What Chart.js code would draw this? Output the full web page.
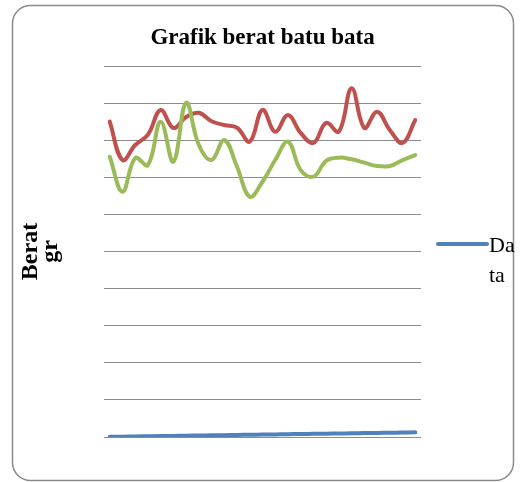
<!DOCTYPE html>
<html>
<head>
<meta charset="utf-8">
<title>Grafik berat batu bata</title>
<script src="https://cdn.jsdelivr.net/npm/chart.js@4.4.1/dist/chart.umd.min.js"></script>
<style>
  html, body { margin: 0; padding: 0; background: #fff; }
  #wrap { width: 520px; height: 482px; }
</style>
</head>
<body>
<div id="wrap"><canvas id="beratChart" width="520" height="482"></canvas></div>
<script>
// nomor sampel (kategori) dan seri data
const sampel = [1, 2, 3, 4, 5, 6, 7, 8, 9, 10, 11, 12, 13, 14, 15, 16, 17, 18, 19, 20, 21, 22, 23, 24, 25];
const dataNo = [1, 2, 3, 4, 5, 6, 7, 8, 9, 10, 11, 12, 13, 14, 15, 16, 17, 18, 19, 20, 21, 22, 23, 24, 25];
const beratMerah = [1700, 1493, 1574, 1630, 1763, 1666, 1725, 1748, 1702, 1682, 1667, 1592, 1763, 1646, 1736,
                    1639, 1585, 1693, 1646, 1880, 1666, 1754, 1655, 1585, 1709];
const beratHijau = [1511, 1322, 1504, 1466, 1700, 1484, 1802, 1574, 1493, 1601, 1457, 1295, 1376, 1493, 1592,
                    1439, 1403, 1489, 1506, 1497, 1479, 1461, 1461, 1493, 1520];
const yTicks = { min: 0, max: 2000, step: 200 };

const serif = "'Liberation Serif', 'Times New Roman', serif";

// bingkai bulat di sekeliling grafik
const frame = {
    id: 'frame',
    beforeDraw(chart) {
        const ctx = chart.ctx;
        ctx.save();
        ctx.fillStyle = '#fff';
        ctx.fillRect(0, 0, chart.width, chart.height);
        ctx.beginPath();
        ctx.roundRect(12.5, 5.5, 501, 475, 18);
        ctx.strokeStyle = '#8a8a8a';
        ctx.lineWidth = 1.5;
        ctx.stroke();
        ctx.restore();
    }
};

// legenda hanya untuk seri pertama, teks dipotong per huruf seperti aslinya
const sideLegend = {
    id: 'sideLegend',
    afterDraw(chart) {
        const ctx = chart.ctx;
        const ds = chart.data.datasets[0];
        const x0 = 438, y0 = 244;
        ctx.save();
        ctx.strokeStyle = ds.borderColor;
        ctx.lineWidth = 4;
        ctx.lineCap = 'round';
        ctx.beginPath();
        ctx.moveTo(x0, y0);
        ctx.lineTo(x0 + 49, y0);
        ctx.stroke();

        ctx.font = '22px ' + serif;
        ctx.fillStyle = '#000';
        ctx.textBaseline = 'alphabetic';
        const maxW = 27;
        const lines = [];
        let cur = '';
        for (const ch of ds.label) {
            if (cur && ctx.measureText(cur + ch).width > maxW) {
                lines.push(cur);
                cur = ch;
            } else {
                cur += ch;
            }
        }
        if (cur) lines.push(cur);
        lines.forEach((t, i) => ctx.fillText(t, x0 + 51, y0 + 8 + i * 30));
        ctx.restore();
    }
};

const ctx = document.getElementById('beratChart').getContext('2d');

new Chart(ctx, {
    type: 'line',
    data: {
        labels: sampel,
        datasets: [
            {
                label: 'Data',
                data: dataNo,
                borderColor: '#4F81BD',
                order: 2
            },
            {
                label: 'Berat 1',
                data: beratMerah,
                borderColor: '#C0504D',
                order: 1
            },
            {
                label: 'Berat 2',
                data: beratHijau,
                borderColor: '#9BBB59',
                order: 0
            }
        ]
    },
    options: {
        responsive: false,
        animation: false,
        layout: { padding: { left: 12, right: 99, top: 0, bottom: 45 } },
        elements: {
            line: { borderWidth: 4, tension: 0.4, borderCapStyle: 'round', fill: false },
            point: { radius: 0, hoverRadius: 0 }
        },
        plugins: {
            legend: { display: false },
            tooltip: { enabled: false },
            title: {
                display: true,
                fullSize: false,
                text: 'Grafik berat batu bata',
                color: '#000',
                font: { family: serif, size: 23, weight: 'bold', lineHeight: 1.2 },
                padding: { top: 24, bottom: 14.4 }
            }
        },
        scales: {
            x: {
                type: 'linear',
                display: false,
                min: 0.55,
                max: 25.45
            },
            y: {
                min: yTicks.min,
                max: yTicks.max,
                ticks: { display: false, stepSize: yTicks.step },
                grid: { color: '#8c8c8c', lineWidth: 1, drawTicks: false },
                border: { display: false },
                title: {
                    display: true,
                    text: ['Berat', 'gr'],
                    color: '#000',
                    font: { family: serif, size: 24, weight: 'bold', lineHeight: 0.82 },
                    padding: { top: 9, bottom: 0 }
                },
                afterFit(scale) {
                    scale.width = 92;
                }
            }
        }
    },
    plugins: [frame, sideLegend]
});
</script>
</body>
</html>
